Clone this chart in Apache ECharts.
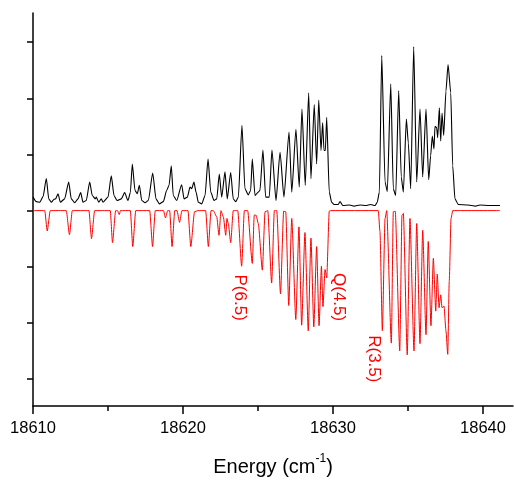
<!DOCTYPE html>
<html>
<head>
<meta charset="utf-8">
<script src="https://cdn.jsdelivr.net/npm/echarts@6/dist/echarts.min.js"></script>
<style>
html,body{margin:0;padding:0;background:#fff;}
#chart{width:514px;height:482px;}
</style>
</head>
<body>
<div id="chart"></div>
<script>
var experimental = [
[18610.00,0.24],[18610.22,0.16],[18610.45,0.15],[18610.67,0.25],[18610.89,0.57],[18611.05,0.21],[18611.22,0.15],[18611.40,0.20],[18611.51,0.21],[18611.67,0.30],[18611.82,0.15],[18612.11,0.21],[18612.38,0.51],[18612.55,0.21],[18612.78,0.14],[18613.00,0.21],[18613.18,0.32],[18613.33,0.15],[18613.55,0.18],[18613.78,0.51],[18613.95,0.27],[18614.15,0.21],[18614.22,0.24],[18614.38,0.15],[18614.55,0.21],[18614.67,0.15],[18615.00,0.24],[18615.22,0.62],[18615.40,0.27],[18615.60,0.18],[18615.89,0.21],[18616.11,0.32],[18616.33,0.18],[18616.49,0.32],[18616.62,0.83],[18616.80,0.36],[18616.95,0.30],[18617.09,0.45],[18617.25,0.18],[18617.47,0.14],[18617.69,0.18],[18617.98,0.67],[18618.20,0.21],[18618.42,0.12],[18618.69,0.16],[18618.91,0.36],[18619.07,0.45],[18619.22,0.80],[18619.35,0.27],[18619.58,0.18],[18619.91,0.46],[18620.07,0.21],[18620.29,0.24],[18620.47,0.42],[18620.58,0.39],[18620.73,0.51],[18620.87,0.33],[18621.02,0.15],[18621.25,0.12],[18621.47,0.27],[18621.67,0.92],[18621.85,0.33],[18622.07,0.18],[18622.25,0.21],[18622.42,0.65],[18622.58,0.24],[18622.80,0.69],[18622.95,0.21],[18623.18,0.68],[18623.35,0.21],[18623.51,0.16],[18623.69,0.24],[18623.93,1.52],[18624.13,0.39],[18624.35,0.28],[18624.51,0.36],[18624.62,0.92],[18624.80,0.27],[18625.02,0.33],[18625.13,0.36],[18625.33,1.08],[18625.51,0.24],[18625.75,0.24],[18625.93,1.08],[18626.20,0.18],[18626.47,1.04],[18626.73,0.24],[18627.07,1.40],[18627.25,0.33],[18627.53,1.45],[18627.75,0.42],[18627.93,1.81],[18628.15,0.45],[18628.38,2.10],[18628.53,0.57],[18628.75,1.89],[18628.91,0.83],[18629.05,1.97],[18629.20,1.07],[18629.31,1.57],[18629.40,1.07],[18629.49,1.07],[18629.58,1.66],[18629.75,0.33],[18629.91,0.15],[18630.07,0.11],[18630.35,0.11],[18630.47,0.16],[18630.65,0.09],[18631.10,0.10],[18631.40,0.08],[18631.80,0.10],[18632.20,0.09],[18632.50,0.11],[18632.80,0.09],[18632.95,0.15],[18633.09,0.33],[18633.25,2.76],[18633.47,0.51],[18633.62,0.34],[18633.85,2.26],[18634.02,0.39],[18634.18,0.27],[18634.38,2.14],[18634.55,0.60],[18634.69,0.33],[18634.89,1.63],[18635.02,1.21],[18635.18,0.39],[18635.38,2.92],[18635.58,0.51],[18635.80,1.81],[18635.98,0.60],[18636.20,1.81],[18636.38,0.55],[18636.51,0.98],[18636.62,1.33],[18636.73,1.10],[18636.80,1.50],[18636.91,1.48],[18636.98,1.30],[18637.09,1.83],[18637.18,1.24],[18637.27,1.74],[18637.38,1.34],[18637.53,2.13],[18637.67,2.60],[18637.85,2.10],[18637.98,0.80],[18638.13,0.21],[18638.35,0.11],[18639.00,0.10],[18639.50,0.08],[18639.80,0.10],[18640.40,0.09],[18641.13,0.09]
];

// Simulated spectrum (plotted inverted)
var simulated = [
[18610.00,0],[18610.78,0],[18610.95,-0.36],[18611.15,0],[18612.22,0],[18612.43,-0.43],[18612.62,0],[18613.73,0],[18613.90,-0.50],[18614.11,0],[18615.15,0],[18615.30,-0.57],[18615.51,0],[18615.63,0],[18615.75,-0.07],[18615.83,0],[18616.49,0],[18616.65,-0.64],[18616.85,0],[18617.78,0],[18617.97,-0.64],[18618.15,0],[18618.70,0],[18618.83,-0.13],[18618.98,0],[18619.11,0],[18619.27,-0.64],[18619.45,0],[18619.60,0],[18619.77,-0.21],[18619.93,0],[18620.33,0],[18620.52,-0.64],[18620.77,-0.02],[18620.98,0],[18621.51,0],[18621.69,-0.64],[18621.87,0],[18622.02,0],[18622.25,-0.11],[18622.40,-0.44],[18622.53,0],[18622.69,-0.11],[18622.85,-0.44],[18622.93,-0.14],[18623.02,-0.23],[18623.18,-0.57],[18623.35,0],[18623.65,0],[18623.91,-0.99],[18624.09,0],[18624.31,0],[18624.62,-0.94],[18624.75,-0.08],[18624.87,-0.08],[18625.02,-0.23],[18625.29,-1.06],[18625.47,-0.02],[18625.65,0],[18625.91,-1.29],[18626.09,0],[18626.25,0],[18626.50,-1.48],[18626.71,-0.01],[18626.85,-0.02],[18627.05,-1.69],[18627.25,-0.14],[18627.52,-1.94],[18627.73,-0.29],[18627.91,-2.04],[18628.13,-0.39],[18628.35,-2.14],[18628.53,-0.49],[18628.72,-2.07],[18628.91,-0.64],[18629.07,-2.05],[18629.23,-0.99],[18629.33,-1.71],[18629.47,-1.05],[18629.58,-1.20],[18629.75,-0.01],[18629.85,0],[18633.02,0],[18633.13,-0.37],[18633.29,-2.14],[18633.47,-0.14],[18633.58,0],[18633.89,-2.36],[18634.02,-0.02],[18634.15,-0.01],[18634.45,-2.50],[18634.60,-0.08],[18634.69,-0.05],[18634.95,-2.57],[18635.13,-0.14],[18635.40,-2.50],[18635.58,-0.23],[18635.80,-2.37],[18635.98,-0.35],[18636.20,-2.21],[18636.35,-0.55],[18636.53,-2.05],[18636.69,-0.85],[18636.85,-1.79],[18636.95,-1.13],[18637.07,-1.73],[18637.18,-1.50],[18637.27,-1.73],[18637.40,-1.70],[18637.53,-2.14],[18637.65,-2.56],[18637.75,-1.26],[18637.87,-0.14],[18637.98,0],[18641.13,0]
];

var xTicks = [18610, 18620, 18630, 18640];
var xMinorTicks = [18615, 18625, 18635];
var yTicks = [-3, -2, -1, 0, 1, 2, 3];

var annotationTexts = ['P(6.5)', 'Q(4.5)', 'R(3.5)'];
var annotationAt = [[18623.8, -1.55], [18630.37, -1.54], [18632.7, -2.64]];

var FONT = '"Liberation Sans", Arial, sans-serif';
var chart = echarts.init(document.getElementById('chart'), null, {renderer: 'canvas'});
var option = {
  animation: false,
  backgroundColor: '#fff',
  grid: {left: 33, right: 1, top: 13, bottom: 73, containLabel: false},
  xAxis: [{
    type: 'value', min: 18610, max: 18642,
    name: '{n|Energy (cm}{s|-1}{n|)}',
    nameLocation: 'middle', nameGap: 47,
    nameTextStyle: {
      rich: {
        n: {fontSize: 20, fontFamily: FONT, color: '#000', verticalAlign: 'bottom', lineHeight: 24},
        s: {fontSize: 12, fontFamily: FONT, color: '#000', verticalAlign: 'top', lineHeight: 24, padding: [0,0,10,0]}
      }
    },
    axisLine: {show: true, onZero: false, lineStyle: {color: '#000', width: 1.5}},
    axisTick: {show: true, inside: false, length: 8, customValues: xTicks, lineStyle: {color: '#000', width: 1.5}},
    axisLabel: {show: true, margin: 14, fontSize: 16.5, color: '#000', fontFamily: FONT, customValues: xTicks,
      formatter: function (v) { return String(Math.round(v)); }},
    splitLine: {show: false}
  }, {
    type: 'value', min: 18610, max: 18642, position: 'bottom',
    axisLine: {show: false, onZero: false},
    axisTick: {show: true, inside: false, length: 5, customValues: xMinorTicks, lineStyle: {color: '#000', width: 1.5}},
    axisLabel: {show: false},
    splitLine: {show: false}
  }],
  yAxis: {
    type: 'value', min: -3.48, max: 3.52,
    axisLine: {show: true, onZero: false, lineStyle: {color: '#000', width: 1.5}},
    axisTick: {show: true, inside: false, length: 6, customValues: yTicks, lineStyle: {color: '#000', width: 1.5}},
    axisLabel: {show: false},
    splitLine: {show: false}
  },
  series: [
    {type: 'line', data: simulated, showSymbol: false, symbol: 'none', smooth: 0.2, smoothMonotone: 'x',
     lineStyle: {color: '#ff0000', width: 1}, z: 2},
    {type: 'line', data: experimental, showSymbol: false, symbol: 'none', smooth: 0.2, smoothMonotone: 'x',
     lineStyle: {color: '#000000', width: 1.1}, z: 3}
  ]
};
chart.setOption(option);

var graphics = annotationTexts.map(function (t, i) {
  var p = chart.convertToPixel({gridIndex: 0}, annotationAt[i]);
  return {
    type: 'text', x: p[0], y: p[1], rotation: -Math.PI / 2,
    style: {text: t, fill: '#ff0000', font: '17px ' + FONT, align: 'center', verticalAlign: 'middle'}
  };
});
chart.setOption({graphic: graphics});
</script>
</body>
</html>
